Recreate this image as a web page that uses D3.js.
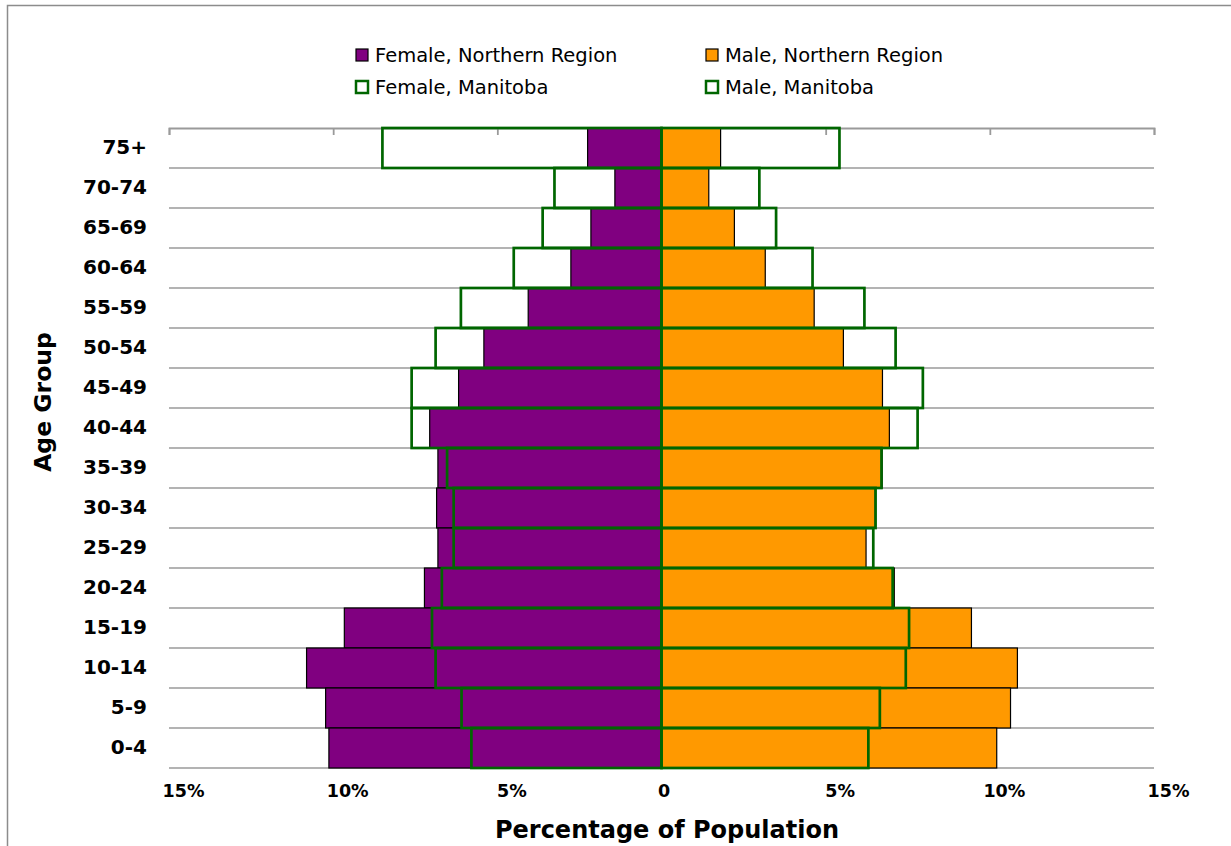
<!DOCTYPE html>
<html>
<head>
<meta charset="utf-8">
<script src="https://cdn.jsdelivr.net/npm/d3@7/dist/d3.min.js"></script>
<style>
  html, body { margin: 0; padding: 0; background: #fff; }
  svg { display: block; }
  text { font-family: "DejaVu Sans", Verdana, sans-serif; fill: #000; }
</style>
</head>
<body>
<svg id="chart" width="1231" height="846"></svg>
<script>
// ---- Data ----
const ageGroups = ["75+","70-74","65-69","60-64","55-59","50-54","45-49","40-44","35-39","30-34","25-29","20-24","15-19","10-14","5-9","0-4"];
const femaleNorthern = [2.25,1.42,2.15,2.76,4.06,5.41,6.18,7.06,6.81,6.85,6.81,7.22,9.66,10.81,10.23,10.13];
const maleNorthern   = [1.80,1.44,2.22,3.16,4.65,5.54,6.73,6.94,6.72,6.51,6.23,7.09,9.44,10.84,10.63,10.21];
const femaleManitoba = [8.50,3.26,3.62,4.50,6.11,6.88,7.61,7.61,6.53,6.33,6.33,6.69,6.99,6.88,6.09,5.79];
const maleManitoba   = [5.42,2.98,3.49,4.60,6.18,7.13,7.96,7.80,6.70,6.52,6.45,7.04,7.54,7.44,6.65,6.30];
const tickValues = [-15,-10,-5,0,5,10,15];
const tickLabels = ["15%","10%","5%","0","5%","10%","15%"];
const legendItems = [
  {label: "Female, Northern Region", key: "fn"},
  {label: "Male, Northern Region", key: "mn"},
  {label: "Female, Manitoba", key: "fm"},
  {label: "Male, Manitoba", key: "mm"}
];

// ---- Styles ----
const PURPLE = "#800080", ORANGE = "#FF9900", GREEN = "#006600", GRID = "#9a9a9a";

const svg = d3.select("#chart");

// outer chart border
svg.append("rect").attr("x", 7.5).attr("y", 5.5).attr("width", 1300).attr("height", 900)
  .attr("fill", "none").attr("stroke", "#8c8c8c").attr("stroke-width", 1.5);

const pLeft = 169, pRight = 1154, pTop = 128, pBottom = 768;
const x = d3.scaleLinear().domain([-15, 15]).range([pLeft, pRight]);
const y = d3.scaleBand().domain(ageGroups).range([pTop, pBottom]).padding(0);

// gridlines at category boundaries
const bounds = ageGroups.map(a => y(a)).concat([pBottom]).filter(v => v > pTop);
svg.append("g").selectAll("line").data(bounds).join("line")
  .attr("x1", pLeft).attr("x2", pRight).attr("y1", d => d).attr("y2", d => d)
  .attr("stroke", GRID).attr("stroke-width", 1.6);

// top axis line with inward ticks
const topAxis = svg.append("g").attr("transform", `translate(0,${pTop})`)
  .call(d3.axisBottom(x).tickValues(tickValues).tickSize(7).tickSizeOuter(7).tickFormat(""));
topAxis.selectAll("path, line").attr("stroke", GRID).attr("stroke-width", 1.8);

// bottom tick labels
const botAxis = svg.append("g").attr("transform", `translate(0,${pBottom})`)
  .call(d3.axisBottom(x).tickValues(tickValues).tickSize(0).tickPadding(17)
    .tickFormat((d, i) => tickLabels[i]));
botAxis.select(".domain").remove();
botAxis.selectAll("text")
  .attr("font-family", "DejaVu Sans, sans-serif").attr("font-weight", "bold")
  .attr("font-size", 17.5).attr("fill", "#000")
  .attr("dx", d => d === 0 ? 2 : 14);

// y axis labels
const yAxis = svg.append("g").attr("transform", `translate(${pLeft},0)`)
  .call(d3.axisLeft(y).tickSize(0).tickPadding(22));
yAxis.select(".domain").remove();
yAxis.selectAll("text")
  .attr("font-family", "DejaVu Sans, sans-serif").attr("font-weight", "bold")
  .attr("font-size", 20).attr("fill", "#000");

// Northern Region bars
const bars = svg.append("g");
bars.selectAll("rect.fn").data(ageGroups).join("rect").attr("class", "fn")
  .attr("x", (d, i) => x(-femaleNorthern[i])).attr("y", d => y(d))
  .attr("width", (d, i) => x(0) - x(-femaleNorthern[i])).attr("height", y.bandwidth())
  .attr("fill", PURPLE).attr("stroke", "#000").attr("stroke-width", 1.2);
bars.selectAll("rect.mn").data(ageGroups).join("rect").attr("class", "mn")
  .attr("x", x(0)).attr("y", d => y(d))
  .attr("width", (d, i) => x(maleNorthern[i]) - x(0)).attr("height", y.bandwidth())
  .attr("fill", ORANGE).attr("stroke", "#000").attr("stroke-width", 1.2);

// Manitoba outlines
const outl = svg.append("g");
outl.selectAll("rect.fm").data(ageGroups).join("rect").attr("class", "fm")
  .attr("x", (d, i) => x(-femaleManitoba[i])).attr("y", d => y(d))
  .attr("width", (d, i) => x(0) - x(-femaleManitoba[i])).attr("height", y.bandwidth())
  .attr("fill", "none").attr("stroke", GREEN).attr("stroke-width", 2.7);
outl.selectAll("rect.mm").data(ageGroups).join("rect").attr("class", "mm")
  .attr("x", x(0)).attr("y", d => y(d))
  .attr("width", (d, i) => x(maleManitoba[i]) - x(0)).attr("height", y.bandwidth())
  .attr("fill", "none").attr("stroke", GREEN).attr("stroke-width", 2.7);

// axis titles
svg.append("text").attr("x", 667).attr("y", 838).attr("text-anchor", "middle")
  .attr("font-weight", "bold").attr("font-size", 24).text("Percentage of Population");
svg.append("text").attr("transform", "translate(51,402) rotate(-90)").attr("text-anchor", "middle")
  .attr("font-weight", "bold").attr("font-size", 23.5).text("Age Group");

// legend
const legPos = [[355, 48], [705, 48], [355, 80], [705, 80]];
const lg = svg.append("g");
legendItems.forEach((it, i) => {
  const [lx, ly] = legPos[i];
  const g = lg.append("g").attr("transform", `translate(${lx},${ly})`);
  let fill = "#fff", stroke = GREEN, sw = 2.5;
  if (it.key === "fn") { fill = PURPLE; stroke = "#000"; sw = 1.2; }
  if (it.key === "mn") { fill = ORANGE; stroke = "#000"; sw = 1.2; }
  g.append("rect").attr("x", 1).attr("y", 1).attr("width", 12).attr("height", 12)
    .attr("fill", fill).attr("stroke", stroke).attr("stroke-width", sw);
  g.append("text").attr("x", 20).attr("y", 14).attr("font-size", 19.5).text(it.label);
});
</script>
</body>
</html>
